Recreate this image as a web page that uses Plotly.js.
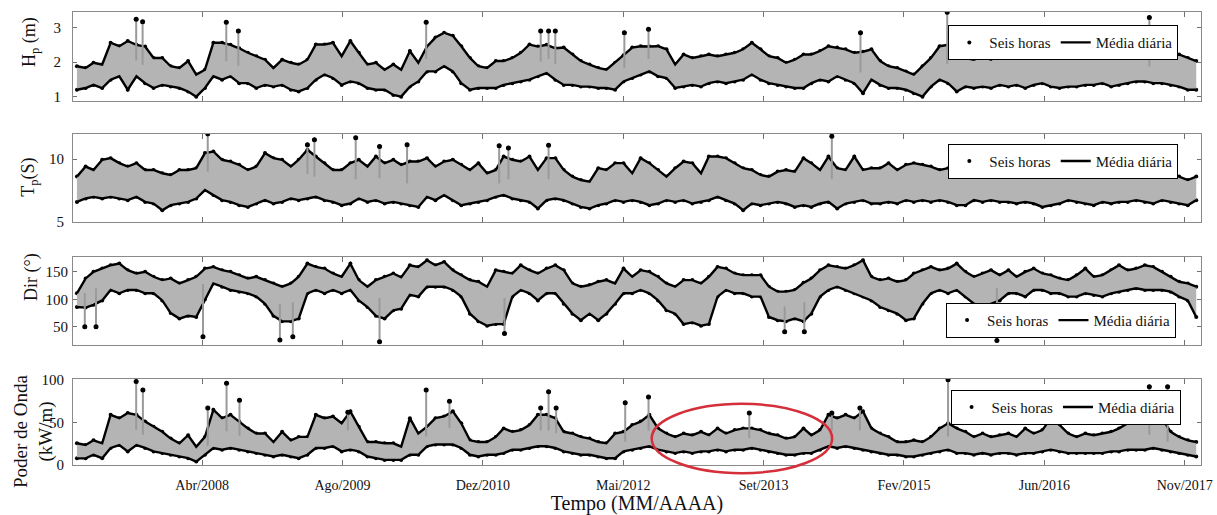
<!DOCTYPE html>
<html><head><meta charset="utf-8">
<script src="https://cdn.plot.ly/plotly-3.0.1.min.js"></script>
<style>html,body{margin:0;padding:0;background:#fff}#chart{width:1217px;height:515px}</style>
</head><body><div id="chart"></div>
<script>
const startYear = 2007, nYears = 11;
const tickDates = ['2008-04-05','2009-08-18','2010-12-31','2012-05-14','2013-09-26','2015-02-08','2016-06-22','2017-11-04'];
const tickLabels = ['Abr/2008','Ago/2009','Dez/2010','Mai/2012','Set/2013','Fev/2015','Jun/2016','Nov/2017'];

// Hp (m): monthly upper / lower envelope of the six-hour series
const hpUpper = [1.88,1.83,1.98,1.93,2.56,2.46,2.61,2.50,2.45,2.12,
 2.12,1.88,1.83,2.03,1.64,1.78,2.56,2.56,2.50,2.40,
 2.27,2.17,2.07,1.83,2.07,1.98,1.93,2.07,2.51,2.51,
 2.56,2.17,2.61,2.27,1.93,1.98,1.78,1.93,1.78,2.32,
 1.98,2.45,2.71,2.85,2.76,2.46,2.12,1.88,1.83,2.03,
 2.03,2.12,2.27,2.51,2.45,2.50,2.40,2.42,2.22,2.03,
 1.93,1.83,1.78,1.98,2.20,2.42,2.46,2.45,2.46,2.37,
 1.93,2.22,2.12,2.17,2.22,2.17,2.22,2.27,2.37,2.56,
 2.37,2.17,2.12,1.98,2.07,2.22,2.22,2.32,2.46,2.42,
 2.37,2.27,2.30,2.37,2.03,1.88,1.83,1.73,1.64,1.88,
 2.12,2.46,2.50,2.12,2.12,2.07,2.17,2.07,2.22,2.17,
 2.27,2.22,2.22,2.32,2.22,2.17,2.22,2.12,2.27,2.22,
 2.27,2.12,2.27,2.32,2.37,2.42,2.35,2.27,2.17,2.22,
 2.12,2.03];
const hpLower = [1.20,1.25,1.34,1.25,1.49,1.59,1.20,1.59,1.39,1.25,
 1.34,1.29,1.25,1.15,1.00,1.25,1.59,1.49,1.59,1.39,
 1.39,1.25,1.34,1.29,1.34,1.20,1.15,1.25,1.49,1.64,
 1.54,1.34,1.44,1.39,1.25,1.20,1.20,1.05,1.00,1.29,
 1.44,1.73,1.73,1.88,1.73,1.39,1.20,1.25,1.25,1.25,
 1.34,1.39,1.44,1.49,1.59,1.68,1.49,1.34,1.34,1.29,
 1.29,1.25,1.25,1.20,1.44,1.54,1.64,1.73,1.59,1.54,
 1.25,1.29,1.34,1.29,1.39,1.44,1.39,1.44,1.49,1.64,
 1.49,1.39,1.34,1.29,1.25,1.25,1.39,1.49,1.44,1.59,
 1.49,1.39,1.10,1.49,1.34,1.25,1.25,1.20,1.10,1.00,
 1.29,1.49,1.39,1.15,1.29,1.25,1.29,1.25,1.34,1.29,
 1.34,1.25,1.34,1.39,1.29,1.25,1.29,1.29,1.34,1.34,
 1.39,1.29,1.34,1.39,1.44,1.44,1.39,1.39,1.34,1.29,
 1.20,1.20];
const hpPeakDates = ['2007-08-14','2007-09-06','2008-06-30','2008-08-12','2010-06-12','2011-07-25','2011-08-22','2011-09-15','2012-05-18','2012-08-12','2014-09-06','2015-07-12','2017-07-01'];
const hpPeakVals = [3.24,3.17,3.15,2.90,3.15,2.90,2.90,2.90,2.85,2.95,2.85,3.44,3.29];

// Tp (s)
const tpUpper = [8.61,9.41,9.14,9.95,10.08,9.68,9.41,9.68,9.14,9.14,
 8.88,8.74,9.14,9.14,9.28,10.48,10.61,9.95,9.81,9.55,
 9.14,9.41,10.48,10.08,9.95,9.41,9.95,10.75,10.21,9.68,
 9.14,9.14,9.68,9.95,9.41,10.21,9.68,9.95,9.55,9.81,
 9.81,10.08,9.41,9.81,9.95,9.55,9.14,9.68,8.88,9.14,
 10.21,9.95,9.81,10.21,9.14,10.08,10.08,9.14,8.61,8.34,
 8.21,9.28,9.14,9.68,9.68,8.88,10.08,9.68,9.14,8.61,
 9.28,9.81,9.68,8.88,10.21,10.21,10.08,9.68,9.28,9.14,
 8.74,8.61,9.01,9.14,9.01,10.08,9.68,9.14,10.21,9.28,
 9.14,10.21,9.14,9.28,9.28,9.68,9.14,9.55,9.68,9.55,
 9.41,9.14,9.28,9.14,8.88,8.74,8.88,9.01,9.14,8.88,
 9.01,9.01,8.88,8.74,8.88,8.74,9.14,8.88,8.61,8.74,
 8.88,8.88,9.14,9.28,9.14,9.01,8.88,9.01,8.74,8.61,
 8.34,8.61];
const tpLower = [6.60,6.87,7.00,6.87,7.00,6.87,6.74,7.00,6.60,6.47,
 5.94,6.34,6.47,6.60,6.87,7.54,7.14,6.74,6.60,6.34,
 6.20,6.47,6.74,6.47,6.60,6.87,6.74,6.87,7.00,6.74,
 6.60,6.34,6.47,6.87,6.60,6.74,6.47,6.60,6.47,6.34,
 6.20,7.00,6.74,7.14,6.74,6.34,6.47,6.60,6.74,7.00,
 7.14,6.87,6.74,6.60,6.07,6.74,6.87,6.74,6.47,6.20,
 6.07,6.34,6.47,6.74,6.60,6.74,6.60,6.34,6.47,6.74,
 6.60,6.74,6.47,6.60,6.74,7.00,6.74,6.47,5.94,6.47,
 6.34,6.47,6.60,6.47,6.20,6.34,6.20,6.47,6.60,6.07,
 6.47,6.60,6.74,6.47,6.47,6.60,6.47,6.74,6.60,6.74,
 6.60,6.74,6.60,6.34,6.34,6.74,6.60,6.74,6.60,6.60,
 6.47,6.60,6.47,6.20,6.34,6.47,6.74,6.60,6.47,6.34,
 6.60,6.47,6.60,6.60,6.74,6.60,6.47,6.74,6.60,6.47,
 6.34,6.74];
const tpPeakDates = ['2008-04-25','2009-04-15','2009-05-10','2009-10-04','2009-12-28','2010-04-05','2011-02-27','2011-04-01','2011-08-22','2014-05-27'];
const tpPeakVals = [12.0,11.15,11.55,11.7,11.0,11.15,11.07,10.88,11.1,11.82];

// Dir (deg)
const dirUpper = [111,138,150,156,162,165,153,147,150,141,
 135,138,129,135,141,156,159,153,150,144,
 138,141,135,129,123,129,141,165,159,156,
 147,141,165,135,123,135,141,147,140,162,
 159,171,162,168,153,144,135,132,123,153,
 150,147,162,153,147,156,162,153,129,123,
 126,132,135,129,156,141,153,150,141,129,
 123,135,135,129,141,159,156,147,144,144,
 144,123,114,114,117,130,138,153,162,159,
 156,162,171,141,135,138,132,135,147,153,
 159,153,156,165,150,141,147,153,144,153,
 141,150,156,147,144,138,135,144,156,141,
 144,153,162,153,156,162,159,150,141,132,
 129,123];
const dirLower = [86,85,90,98,117,111,117,117,111,111,
 98,75,65,70,68,100,129,123,117,114,
 111,105,92,70,60,60,65,111,117,111,
 117,111,117,98,86,70,65,80,83,108,
 105,123,123,123,117,105,74,60,52,55,
 55,105,117,111,98,111,111,92,74,62,
 74,62,74,92,111,111,117,111,98,80,
 74,55,58,52,55,105,117,111,111,105,
 105,68,62,60,65,60,74,105,117,123,
 117,111,105,98,86,80,74,62,65,92,
 111,117,111,117,105,92,86,92,98,111,
 111,105,117,117,111,111,105,105,111,108,
 105,111,114,117,120,117,117,117,114,105,
 98,68];
const dirPeakDates = ['2007-02-12','2007-03-24','2008-04-08','2009-01-07','2009-02-22','2009-12-28','2011-03-18','2013-12-10','2014-02-18','2016-01-05'];
const dirPeakVals = [50,50,32,26,32,23,38,41,41,25];

// Wave power (kW/m)
const pwUpper = [25.5,23.5,29,25.5,59,55,61,59,51,45,
 39,31,25.5,35,21.5,33,65,55,59,51,
 43,37,37,27,39,29,33,33,59,55,
 57,49,63,45,27,27,25.5,25.5,21.5,55,
 37,45,55,57,63,49,29,27,27,33,
 43,39,41,47,59,59,55,39,37,33,
 31,27,25.5,37,39,47,51,59,43,37,
 33,37,35,39,35,43,37,41,43,43,
 41,37,35,31,33,43,35,41,59,55,
 59,55,63,43,37,33,27,27,29,27,
 33,43,49,43,39,33,37,33,35,37,
 33,43,37,41,55,47,37,33,37,35,
 37,39,43,49,51,55,51,55,39,33,
 29,27];
const pwLower = [7.8,7.8,12,8,20,23.5,16,23.5,20,16,
 14,12,10,8,4,12,20,18,20,18,
 16,14,12,10,12,10,8,12,20,20,
 22,16,18,16,10,8,6,6,6,12,
 12,22,24,24,24,20,12,10,12,12,
 14,18,18,20,22,22,20,16,14,12,
 12,10,8,8,16,18,20,22,18,16,
 14,16,14,16,16,18,16,18,18,20,
 18,16,14,12,12,14,14,18,22,20,
 22,20,18,16,14,12,12,10,10,12,
 14,16,18,14,14,12,14,12,14,14,
 12,14,14,16,18,16,14,14,14,14,
 14,16,16,18,18,18,20,18,16,14,
 12,10];
const pwPeakDates = ['2007-08-14','2007-09-07','2008-04-25','2008-07-01','2008-08-16','2009-09-06','2010-06-12','2010-09-03','2011-07-25','2011-08-22','2011-09-18','2012-05-21','2012-08-12','2013-08-06','2014-05-27','2014-09-04','2015-07-15','2017-07-01','2017-09-04'];
const pwPeakVals = [98,88,67,96,76,62,88,75,67,86,67,73,80,61,61,67,100,92,92];

const months = [];
for (let y = startYear; y < startYear + nYears; y++)
  for (let m = 1; m <= 12; m++) months.push(y + '-' + String(m).padStart(2, '0') + '-15');

function monthIndex(d) { return (+d.slice(0, 4) - startYear) * 12 + (+d.slice(5, 7)) - 1; }

const FONT = '"Liberation Serif", "Times New Roman", serif';

function panelTraces(k, upper, lower, peakDates, peakVals) {
  const xa = k === 1 ? 'x' : 'x' + k, ya = k === 1 ? 'y' : 'y' + k, lg = k === 1 ? 'legend' : 'legend' + k;
  const sx = [], sy = [];
  peakDates.forEach((d, i) => {
    const j = monthIndex(d);
    sx.push(d, d, null);
    sy.push((upper[j] + lower[j]) / 2, peakVals[i], null);
  });
  return [
    { type: 'scatter', x: months.concat(months, peakDates), y: upper.concat(lower, peakVals), xaxis: xa, yaxis: ya,
      mode: 'markers', marker: { color: '#000', size: 4 }, name: 'Seis horas', legend: lg, hoverinfo: 'skip' },
    { type: 'scatter', x: months, y: lower, xaxis: xa, yaxis: ya, mode: 'lines',
      line: { color: '#000', width: 2.4 }, name: 'Média diária', legend: lg, hoverinfo: 'skip' },
    { type: 'scatter', x: months, y: upper, xaxis: xa, yaxis: ya, mode: 'lines', fill: 'tonexty', fillcolor: '#b4b4b4',
      line: { color: '#000', width: 2.4 }, showlegend: false, hoverinfo: 'skip' },
    { type: 'scatter', x: sx, y: sy, xaxis: xa, yaxis: ya, mode: 'lines',
      line: { color: '#9a9a9a', width: 2 }, showlegend: false, hoverinfo: 'skip' },
    { type: 'scatter', x: peakDates, y: peakVals, xaxis: xa, yaxis: ya, mode: 'markers',
      marker: { color: '#000', size: 5 }, showlegend: false, hoverinfo: 'skip' }
  ];
}

const data = [].concat(
  panelTraces(1, hpUpper, hpLower, hpPeakDates, hpPeakVals),
  panelTraces(2, tpUpper, tpLower, tpPeakDates, tpPeakVals),
  panelTraces(3, dirUpper, dirLower, dirPeakDates, dirPeakVals),
  panelTraces(4, pwUpper, pwLower, pwPeakDates, pwPeakVals)
);

function xax(k, labels) {
  const a = {
    domain: [0, 1], anchor: k === 1 ? 'y' : 'y' + k, type: 'date', range: ['2007-01-01', '2018-01-01'],
    tickmode: 'array', tickvals: tickDates, ticktext: tickLabels, showticklabels: labels,
    ticks: 'inside', ticklen: 5, tickcolor: '#707070', showline: true, linecolor: '#8a8a8a', linewidth: 1,
    mirror: 'ticks', showgrid: false, zeroline: false, fixedrange: true,
    tickfont: { family: FONT, size: 14, color: '#111' }, ticklabelstandoff: 7
  };
  if (labels) a.title = { text: 'Tempo (MM/AAAA)', font: { family: FONT, size: 20, color: '#111' }, standoff: 5 };
  return a;
}
function yax(k, domain, range, tickvals, tls) {
  return {
    domain: domain, anchor: k === 1 ? 'x' : 'x' + k, range: range, tickmode: 'array', tickvals: tickvals,
    ticks: 'inside', ticklen: 4, tickcolor: '#707070', showline: true, linecolor: '#8a8a8a', linewidth: 1,
    mirror: 'ticks', showgrid: false, zeroline: false, fixedrange: true, ticklabelstandoff: tls,
    tickfont: { family: FONT, size: 15, color: '#111' }
  };
}
function leg(x, y) {
  return { x: x, y: y, xanchor: 'left', yanchor: 'top', orientation: 'h', bgcolor: '#fff', bordercolor: '#000',
    borderwidth: 1, font: { family: FONT, size: 15, color: '#111' }, itemwidth: 30, traceorder: 'normal' };
}
function ytitle(text, x, y, size) {
  return { text: text, xref: 'paper', yref: 'paper', x: x, y: y, xanchor: 'center', yanchor: 'middle',
    textangle: -90, showarrow: false, font: { family: FONT, size: size, color: '#111' } };
}

const layout = {
  width: 1217, height: 515, margin: { l: 73, r: 16, t: 12, b: 50 },
  paper_bgcolor: '#fff', plot_bgcolor: '#fff', showlegend: true,
  font: { family: FONT, color: '#111' },
  xaxis: xax(1, false), xaxis2: xax(2, false), xaxis3: xax(3, false), xaxis4: xax(4, true),
  yaxis: yax(1, [0.804, 1.0], [0.88, 3.45], [1, 2, 3], 8),
  yaxis2: yax(2, [0.5364, 0.7307], [5, 12], [5, 10], 5),
  yaxis3: yax(3, [0.2649, 0.4592], [17, 177], [50, 100, 150], 1),
  yaxis4: yax(4, [0, 0.1898], [0, 101], [0, 50, 100], 5),
  legend: leg(0.776, 0.971), legend2: leg(0.776, 0.709), legend3: leg(0.774, 0.358), legend4: leg(0.778, 0.166),
  annotations: [
    ytitle('H<sub>p</sub> (m)', -0.0372, 0.934, 18),
    ytitle('T<sub>p</sub>(S)', -0.0381, 0.634, 18),
    ytitle('Dir (°)', -0.0372, 0.415, 18),
    ytitle('Poder de Onda<br>(kW/m)', -0.0355, 0.075, 19)
  ],
  shapes: [{ type: 'circle', xref: 'paper', yref: 'paper', x0: 0.513, x1: 0.673, y0: -0.018, y1: 0.135,
    line: { color: '#d42f3a', width: 2.5 } }]
};

Plotly.newPlot('chart', data, layout, { displayModeBar: false, staticPlot: true });
</script></body></html>
